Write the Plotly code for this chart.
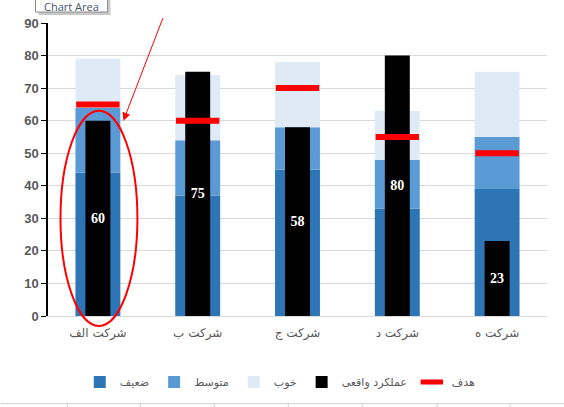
import plotly.graph_objects as go

# data
companies = ["شرکت الف", "شرکت ب", "شرکت ج", "شرکت د", "شرکت ه"]
weak = [44, 37, 45, 33, 39]        # ضعیف
medium = [20, 17, 13, 15, 16]      # متوسط (on top of weak)
good = [15, 20, 20, 15, 20]        # خوب (on top of medium)
actual = [60, 75, 58, 80, 23]      # عملکرد واقعی
target = [65, 60, 70, 55, 50]      # هدف

W, H = 564, 407
L, R, T, B = 47.5, 17, 23, 90
PW, PH = W - L - R, H - T - B


def px_x(px):
    return (px - L) / PW


def px_y(py):
    return (H - B - py) / PH


base_mid = [w for w in weak]
base_good = [w + m for w, m in zip(weak, medium)]

fig = go.Figure()
fig.add_trace(go.Bar(x=companies, y=weak, base=[0] * 5, width=0.45, name="ضعیف",
                     marker=dict(color="#2E75B6", line_width=0), hoverinfo="skip"))
fig.add_trace(go.Bar(x=companies, y=medium, base=base_mid, width=0.45, name="متوسط",
                     marker=dict(color="#5B9BD5", line_width=0), hoverinfo="skip"))
fig.add_trace(go.Bar(x=companies, y=good, base=base_good, width=0.45, name="خوب",
                     marker=dict(color="#DEEBF7", line_width=0), hoverinfo="skip"))
fig.add_trace(go.Bar(x=companies, y=actual, width=0.25, name="عملکرد واقعی",
                     marker=dict(color="#000000", line_width=0),
                     text=actual, textposition="inside", insidetextanchor="middle",
                     textangle=0,
                     textfont=dict(family="Liberation Serif", size=14, color="white", weight="bold")))
fig.add_trace(go.Scatter(x=companies, y=target, mode="markers", name="هدف",
                         marker=dict(symbol="line-ew", size=31, color="#FF0000",
                                     line=dict(color="#FF0000", width=6))))

# red ellipse + arrow callout
shapes = [
    dict(type="circle", xref="paper", yref="paper",
         x0=px_x(60), x1=px_x(137), y0=px_y(327), y1=px_y(111),
         line=dict(color="#FF0000", width=2)),
    # "Chart Area" tooltip (shadow + box)
    dict(type="rect", xref="paper", yref="paper",
         x0=px_x(38), x1=px_x(110), y0=px_y(15), y1=px_y(-6),
         fillcolor="#C8C8C8", line_width=0),
    dict(type="rect", xref="paper", yref="paper",
         x0=px_x(35), x1=px_x(107), y0=px_y(12), y1=px_y(-6),
         fillcolor="white", line=dict(color="#8C8C8C", width=1)),
    # sheet gridline below chart
    dict(type="line", xref="paper", yref="paper",
         x0=px_x(0), x1=px_x(564), y0=px_y(405), y1=px_y(405),
         line=dict(color="#D0D0D0", width=1)),
]
for gx in [67, 140, 214, 288, 362, 437, 510]:
    shapes.append(dict(type="line", xref="paper", yref="paper",
                       x0=px_x(gx), x1=px_x(gx), y0=px_y(405), y1=px_y(412),
                       line=dict(color="#D0D0D0", width=1)))

annotations = [
    dict(xref="paper", yref="paper", x=px_x(123), y=px_y(121),
         axref="pixel", ayref="pixel", ax=40, ay=-104,
         showarrow=True, arrowhead=2, arrowsize=1.6, arrowwidth=1,
         arrowcolor="#FF0000", text=""),
    dict(xref="paper", yref="paper", x=px_x(71), y=px_y(6),
         xanchor="center", yanchor="middle",
         text="Chart Area", showarrow=False,
         font=dict(family="Open Sans", size=11, color="#44546A")),
]

fig.update_layout(
    width=W, height=H,
    margin=dict(l=L, r=R, t=T, b=B),
    paper_bgcolor="white", plot_bgcolor="white",
    barmode="overlay",
    showlegend=True,
    legend=dict(orientation="h", x=px_x(280), y=px_y(382),
                xanchor="center", yanchor="middle",
                font=dict(family="DejaVu Sans", size=11, color="#595959"),
                itemwidth=30, tracegroupgap=0),
    font=dict(family="DejaVu Sans", color="#595959"),
    shapes=shapes,
    annotations=annotations,
)
fig.update_yaxes(range=[0, 90], dtick=10, showgrid=True, gridcolor="#D9D9D9",
                 showline=True, linecolor="#000000", linewidth=1.5,
                 ticks="outside", ticklen=5, tickcolor="#000000",
                 tickfont=dict(family="Liberation Sans", size=13, color="#595959", weight="bold"),
                 zeroline=False)
fig.update_xaxes(showline=True, linecolor="#D9D9D9", linewidth=1,
                 tickfont=dict(family="DejaVu Sans", size=12, color="#595959"),
                 ticks="", ticklabelstandoff=6, range=[-0.5, 4.5])

# page margin off so the figure sits at the window corner
fig.write_html("out.html", config={"displayModeBar": False},
               post_script="document.body.style.margin='0px';")
